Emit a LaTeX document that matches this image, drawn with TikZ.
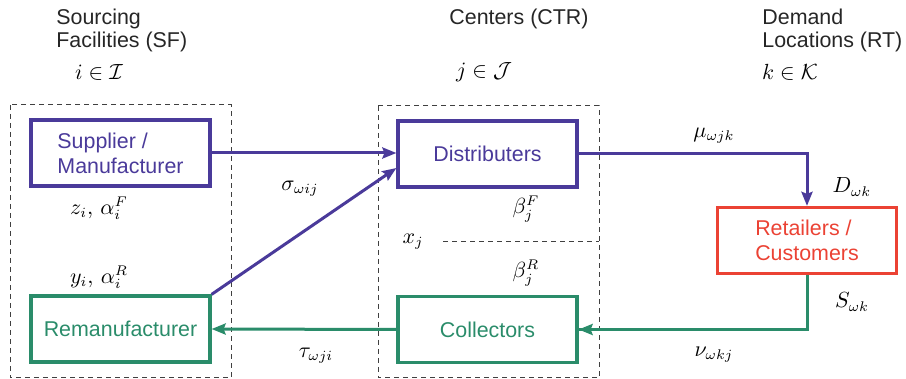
\documentclass[tikz,border=0pt]{standalone}
\usepackage{fontspec}
\setmainfont{Liberation Sans}
\usetikzlibrary{arrows.meta,calc}
\definecolor{pur}{HTML}{4A3A9A}
\definecolor{grn}{HTML}{2A8C6A}
\definecolor{rd}{HTML}{EB4234}
\tikzset{
  box/.style={draw=#1, text=#1, line width=1.6pt, minimum width=89.5pt, minimum height=33pt, inner sep=2pt, align=left, font=\fontsize{10.7}{12.4}\selectfont},
  flow/.style={draw=#1, line width=1.5pt, -{Stealth[length=7pt,width=5.5pt,inset=1pt]}},
  plain/.style={draw=#1, line width=1.5pt},
  dbox/.style={draw=black!75, line width=0.5pt, dash pattern=on 2.5pt off 2pt},
  lbl/.style={font=\fontsize{10.7}{12.4}\selectfont, inner sep=0pt},
  hdr/.style={font=\fontsize{10.7}{11.5}\selectfont, text=black!85, align=left, anchor=north west, inner sep=0pt}
}
\begin{document}
\begin{tikzpicture}[x=0.5pt,y=-0.5pt]
\useasboundingbox (0,0) rectangle (906,379);
% headers
\node[hdr] (h1) at (56,9) {Sourcing\\Facilities (SF)};
\node[hdr] (h2) at (449,9) {Centers (CTR)};
\node[hdr] (h3) at (762,9) {Demand\\Locations (RT)};
\node[lbl] (s1) at (99,72) {$i\in\mathcal{I}$};
\node[lbl] (s2) at (484,72) {$j\in\mathcal{J}$};
\node[lbl] (s3) at (790,72) {$k\in\mathcal{K}$};
% dashed groups
\draw[dbox] (10,105) rectangle (231,378);
\draw[dbox] (378,106) rectangle (599,378);
\draw[dbox] (443,242) -- (599,242);
% boxes
\node[box=pur] (sup) at (120.5,153) {Supplier /\\Manufacturer};
\node[box=grn] (rem) at (120.5,329) {Remanufacturer};
\node[box=pur] (dis) at (487.5,154) {Distributers};
\node[box=grn] (col) at (487.5,329.5) {Collectors};
\node[box=rd] (ret) at (807,240.5) {Retailers /\\Customers};
% flows
\draw[flow=pur] (sup.east) -- (sup.east -| dis.west);
\draw[flow=pur] (rem.north east) -- ($(dis.west)+(0,14)$);
\draw[flow=pur] (dis.east) -| (ret.north);
\draw[plain=grn] (ret.south) |- (col.east);
\draw[flow=grn] (ret.south |- col.east) -- (col.east);
\draw[flow=grn] (col.west) -- (rem.east);
% labels
\node[lbl] (zi) at (99,208) {$z_i,\,\alpha_i^F$};
\node[lbl] (yi) at (99,277) {$y_i,\,\alpha_i^R$};
\node[lbl] (sig) at (300,189) {$\sigma_{\omega ij}$};
\node[lbl] (tau) at (316,356) {$\tau_{\omega ji}$};
\node[lbl] (bF) at (526,209) {$\beta_j^F$};
\node[lbl] (bR) at (526,273) {$\beta_j^R$};
\node[lbl] (xj) at (413,242) {$x_j$};
\node[lbl] (mu) at (714,136) {$\mu_{\omega jk}$};
\node[lbl] (D) at (852,187) {$D_{\omega k}$};
\node[lbl] (S) at (852,302) {$S_{\omega k}$};
\node[lbl] (nu) at (714,355) {$\nu_{\omega kj}$};
\end{tikzpicture}
\end{document}
